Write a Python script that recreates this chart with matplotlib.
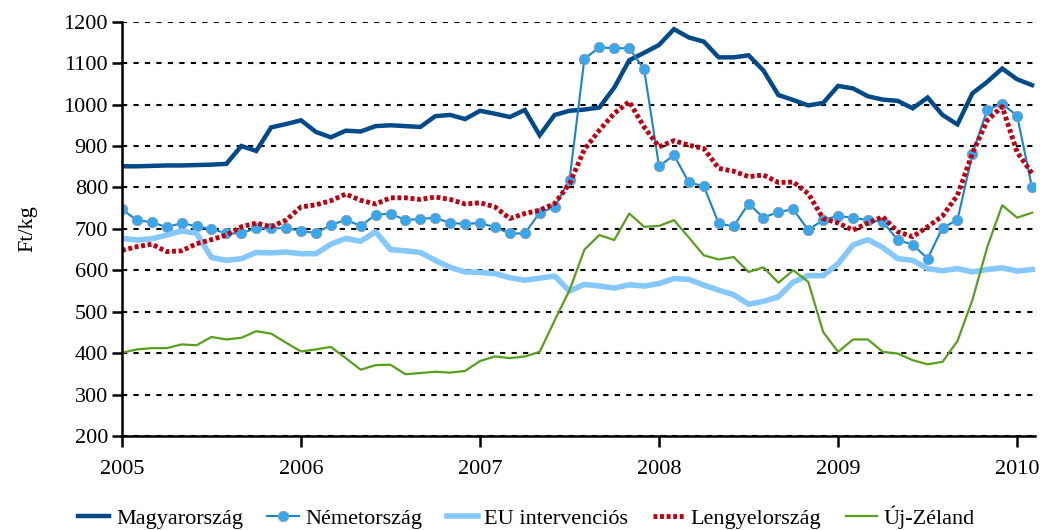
import numpy as np
import matplotlib
matplotlib.use('Agg')
import matplotlib.pyplot as plt

plt.rcParams['font.family'] = ['Liberation Serif', 'DejaVu Serif']

# monthly data, Jan 2005 - Feb 2010
months = np.arange(62)

magyar = [851, 851, 852, 853, 853, 854, 855, 857, 900, 888, 945, 953, 962, 934, 921, 937,
          935, 948, 950, 948, 946, 972, 975, 965, 985, 978, 970, 987, 926, 975, 985, 988,
          993, 1041, 1107, 1125, 1144, 1182, 1162, 1152, 1114, 1114, 1119, 1082, 1023, 1011,
          998, 1004, 1045, 1039, 1020, 1012, 1009, 991, 1017, 975, 952, 1027, 1055, 1087,
          1061, 1047]

nemet = [747, 721, 716, 704, 714, 706, 700, 689, 689, 702, 701, 702, 695, 690, 709, 722,
         707, 734, 737, 721, 724, 727, 714, 712, 714, 704, 689, 689, 739, 753, 819, 1111,
         1138, 1136, 1136, 1085, 851, 878, 812, 803, 713, 706, 761, 727, 741, 747, 697, 722,
         731, 727, 721, 717, 673, 662, 628, 703, 721, 880, 988, 1002, 973, 800]

eu_interv = [677, 673, 676, 685, 695, 689, 631, 624, 628, 643, 642, 644, 640, 640, 663, 677,
             670, 693, 650, 647, 643, 624, 607, 596, 595, 592, 582, 576, 581, 586, 550, 566,
             562, 557, 565, 562, 568, 580, 578, 564, 552, 541, 518, 525, 536, 572, 587, 587,
             616, 661, 674, 655, 628, 624, 604, 599, 604, 596, 602, 606, 598, 602]

lengyel = [648, 657, 663, 645, 647, 664, 674, 685, 705, 714, 705, 721, 753, 758, 768, 784,
           769, 760, 775, 775, 771, 777, 771, 760, 763, 753, 725, 737, 745, 761, 809, 892,
           938, 979, 1007, 946, 898, 913, 902, 894, 846, 839, 826, 830, 812, 813, 785, 725,
           714, 697, 714, 729, 693, 681, 705, 731, 781, 882, 962, 995, 885, 834]

uj_zeland = [401, 409, 412, 412, 421, 419, 439, 433, 437, 453, 447, 425, 404, 409, 415, 388,
             360, 371, 372, 349, 352, 355, 353, 357, 381, 392, 388, 392, 403, 479, 552, 650,
             685, 673, 737, 705, 707, 721, 679, 636, 626, 632, 596, 607, 570, 600, 572, 451,
             403, 433, 433, 403, 399, 383, 373, 379, 429, 528, 656, 757, 727, 739]

x = 2005 + months / 12.0

fig = plt.figure(figsize=(10.46, 5.30), dpi=100)
ax = fig.add_axes([0.1166, 0.1774, 0.8729, 0.7816])

ax.plot(x, magyar, color='#004a8a', lw=3.2, label='Magyarország', solid_joinstyle='miter')
ax.plot(x, nemet, color='#1585d0', lw=1.5, marker='o', ms=7.5, mfc='#35a8f0',
        mec='#8a9aa8', mew=0.6, label='Németország')
ax.plot(x, eu_interv, color='#85c8fc', lw=4, label='EU intervenciós')
ax.plot(x, lengyel, color='#c00010', lw=3.5, ls=(0, (0.8, 0.55)), label='Lengyelország')
ax.plot(x, uj_zeland, color='#5a9e1e', lw=1.6, label='Új-Zéland')

ax.set_xlim(2005, 2010.1)
ax.set_ylim(200, 1200)
ax.set_yticks(np.arange(200, 1201, 100))
ax.set_xticks([2005, 2006, 2007, 2008, 2009, 2010])
ax.set_xticklabels(['2005', '2006', '2007', '2008', '2009', '2010'])
ax.yaxis.grid(True, color='black', ls=(0, (2.5, 3)), lw=1.5)
ax.set_axisbelow(True)
for s in ['top', 'right']:
    ax.spines[s].set_visible(False)
ax.spines['left'].set_linewidth(1.8)
ax.spines['bottom'].set_linewidth(1.8)
ax.tick_params(axis='both', labelsize=16, width=1.8, length=7, direction='out')
ax.tick_params(axis='x', length=8, pad=9)
ax.tick_params(axis='y', length=7, pad=3)
ax.set_ylabel('Ft/kg', fontsize=16, labelpad=19)

ax.legend(loc='center', bbox_to_anchor=(0.443, -0.196), ncol=5, frameon=False,
          fontsize=16, handlelength=1.4, handletextpad=0.3, columnspacing=1.1)

fig.savefig('out.png', dpi=100)
